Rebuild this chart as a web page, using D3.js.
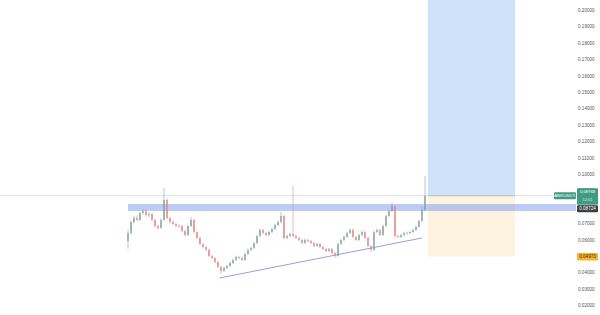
<!DOCTYPE html>
<html>
<head>
<meta charset="utf-8">
<script src="https://cdn.jsdelivr.net/npm/d3@7"></script>
<style>
  body { margin: 0; background: #fff; }
  .axis text { font-family: "Liberation Sans", Arial, sans-serif; }
</style>
</head>
<body>
<div class="chart"></div>
<script>
// candle data (open = previous close)
const firstOpen = 0.0590;
const closes = [
  0.0640, 0.0707, 0.0732, 0.0720, 0.0762, 0.0774, 0.0750, 0.0756, 0.0720, 0.0683,
  0.0671, 0.0720, 0.0842, 0.0732, 0.0707, 0.0695, 0.0683, 0.0683, 0.0652, 0.0628,
  0.0683, 0.0720, 0.0646, 0.0610, 0.0573, 0.0555, 0.0537, 0.0500, 0.0488, 0.0463,
  0.0433, 0.0409, 0.0427, 0.0439, 0.0457, 0.0476, 0.0494, 0.0488, 0.0476, 0.0512,
  0.0537, 0.0549, 0.0579, 0.0622, 0.0659, 0.0640, 0.0628, 0.0646, 0.0665, 0.0689,
  0.0707, 0.0744, 0.0610, 0.0622, 0.0634, 0.0622, 0.0610, 0.0598, 0.0579, 0.0598,
  0.0591, 0.0579, 0.0561, 0.0573, 0.0555, 0.0543, 0.0530, 0.0543, 0.0518, 0.0500,
  0.0573, 0.0598, 0.0616, 0.0640, 0.0659, 0.0616, 0.0598, 0.0628, 0.0646, 0.0610,
  0.0561, 0.0537, 0.0646, 0.0659, 0.0628, 0.0683, 0.0744, 0.0774, 0.0805, 0.0622,
  0.0616, 0.0628, 0.0640, 0.0640, 0.0646, 0.0659, 0.0677, 0.0713, 0.0780, 0.0868
];
const highs = [
  0.0660, 0.0718, 0.0745, 0.0748, 0.0770, 0.0786, 0.0780, 0.0768, 0.0762, 0.0726,
  0.0690, 0.0731, 0.0915, 0.0850, 0.0740, 0.0716, 0.0703, 0.0694, 0.0690, 0.0660,
  0.0692, 0.0738, 0.0726, 0.0652, 0.0618, 0.0580, 0.0562, 0.0545, 0.0508, 0.0494,
  0.0470, 0.0440, 0.0435, 0.0447, 0.0465, 0.0484, 0.0502, 0.0501, 0.0495, 0.0520,
  0.0545, 0.0558, 0.0588, 0.0631, 0.0668, 0.0666, 0.0648, 0.0655, 0.0673, 0.0697,
  0.0716, 0.0768, 0.0750, 0.0631, 0.0642, 0.0927, 0.0630, 0.0617, 0.0605, 0.0606,
  0.0605, 0.0598, 0.0585, 0.0580, 0.0579, 0.0561, 0.0550, 0.0550, 0.0549, 0.0524,
  0.0581, 0.0606, 0.0625, 0.0648, 0.0668, 0.0665, 0.0622, 0.0636, 0.0655, 0.0652,
  0.0616, 0.0567, 0.0655, 0.0668, 0.0665, 0.0691, 0.0752, 0.0783, 0.0823, 0.0811,
  0.0630, 0.0636, 0.0648, 0.0649, 0.0654, 0.0667, 0.0685, 0.0721, 0.0800, 0.0988
];
const lows = [
  0.0545, 0.0630, 0.0698, 0.0710, 0.0712, 0.0752, 0.0741, 0.0738, 0.0711, 0.0674,
  0.0660, 0.0665, 0.0714, 0.0722, 0.0698, 0.0688, 0.0674, 0.0672, 0.0645, 0.0620,
  0.0622, 0.0676, 0.0638, 0.0602, 0.0566, 0.0547, 0.0529, 0.0494, 0.0480, 0.0456,
  0.0426, 0.0390, 0.0402, 0.0420, 0.0432, 0.0450, 0.0470, 0.0480, 0.0469, 0.0470,
  0.0505, 0.0530, 0.0542, 0.0572, 0.0615, 0.0632, 0.0620, 0.0621, 0.0639, 0.0658,
  0.0682, 0.0700, 0.0602, 0.0603, 0.0615, 0.0614, 0.0603, 0.0590, 0.0572, 0.0573,
  0.0584, 0.0572, 0.0554, 0.0555, 0.0548, 0.0536, 0.0524, 0.0525, 0.0511, 0.0488,
  0.0495, 0.0567, 0.0591, 0.0610, 0.0633, 0.0609, 0.0591, 0.0592, 0.0621, 0.0603,
  0.0554, 0.0524, 0.0531, 0.0640, 0.0621, 0.0622, 0.0677, 0.0737, 0.0768, 0.0614,
  0.0608, 0.0610, 0.0621, 0.0632, 0.0634, 0.0640, 0.0652, 0.0670, 0.0706, 0.0772
];

// drawings (index units on x, price on y)
const bandZone = [0.0774, 0.0817];
const trendLine = [{i: 30.5, p: 0.0366}, {i: 98, p: 0.0610}];
const position = {start: 100, end: 129, entry: 0.0868, stop: 0.04973, target: 0.2150};
const priceTicks = d3.range(2, 21).map(d => d / 100);
const symbolName = "BANKUSDT.P";
const lastLabel = "0.08768";
const countdown = "12:01";
const darkLabel = "0.08724";
const stopLabel = "0.04973";

const width = 600, height = 315;
const plotRight = 576;

const candles = closes.map((c, i) => ({
  i: i,
  o: i === 0 ? firstOpen : closes[i - 1],
  c: c,
  h: highs[i],
  l: lows[i]
}));

const svg = d3.select('.chart').append('svg')
  .attr("width", width)
  .attr("height", height);

const xScale = d3.scaleLinear()
  .domain([0, closes.length - 1])
  .range([128, 425]);

const yScale = d3.scaleLinear()
  .domain([0.20, 0.02])
  .range([10, 305.2]);

// long position tool
svg.append("rect")
  .attr("x", xScale(position.start))
  .attr("width", xScale(position.end) - xScale(position.start))
  .attr("y", yScale(position.target))
  .attr("height", yScale(position.entry) - yScale(position.target))
  .attr("fill", "#cfe2f8");

svg.append("rect")
  .attr("x", xScale(position.start))
  .attr("width", xScale(position.end) - xScale(position.start))
  .attr("y", yScale(position.entry))
  .attr("height", yScale(position.stop) - yScale(position.entry))
  .attr("fill", "#fdf3df");

svg.append("line")
  .attr("x1", xScale(position.start))
  .attr("x2", xScale(position.end))
  .attr("y1", yScale(position.entry))
  .attr("y2", yScale(position.entry))
  .attr("stroke", "#9a9a9a")
  .attr("stroke-width", 0.8);

// last price line
svg.append("line")
  .attr("x1", 0)
  .attr("x2", plotRight)
  .attr("y1", yScale(position.entry))
  .attr("y2", yScale(position.entry))
  .attr("stroke", "#c9d3e2")
  .attr("stroke-width", 0.7);

// horizontal zone
svg.append("rect")
  .attr("x", xScale(0))
  .attr("width", plotRight - xScale(0))
  .attr("y", yScale(bandZone[1]))
  .attr("height", yScale(bandZone[0]) - yScale(bandZone[1]))
  .attr("fill", "#7d98ee")
  .style("opacity", 0.5);

// trend line
svg.append("line")
  .attr("x1", xScale(trendLine[0].i))
  .attr("y1", yScale(trendLine[0].p))
  .attr("x2", xScale(trendLine[1].i))
  .attr("y2", yScale(trendLine[1].p))
  .attr("stroke", "#7f86d6")
  .attr("stroke-width", 0.8);

// candles
const upColor = "#84a69d", downColor = "#e08a85";
const g = svg.append("g");

g.selectAll(".wick")
  .data(candles)
  .enter()
  .append("line")
  .attr("x1", d => xScale(d.i))
  .attr("x2", d => xScale(d.i))
  .attr("y1", d => yScale(d.h))
  .attr("y2", d => yScale(d.l))
  .attr("stroke", d => d.c >= d.o ? upColor : downColor)
  .attr("stroke-width", 0.6);

g.selectAll(".body")
  .data(candles)
  .enter()
  .append("rect")
  .attr("x", d => xScale(d.i) - 0.7)
  .attr("width", 1.4)
  .attr("y", d => yScale(Math.max(d.o, d.c)))
  .attr("height", d => Math.max(0.6, Math.abs(yScale(d.o) - yScale(d.c))))
  .attr("fill", d => d.c >= d.o ? upColor : downColor);

// price axis
const yAxis = d3.axisRight()
  .scale(yScale)
  .tickValues(priceTicks)
  .tickSize(0)
  .tickPadding(2)
  .tickFormat(d3.format(".5f"));

svg.append("g")
  .attr("class", "axis y-axis")
  .attr("transform", `translate(${plotRight},0)`)
  .call(yAxis)
  .call(a => a.select(".domain").remove())
  .selectAll("text")
  .style("font-size", "4.6px")
  .attr("fill", "#555");

// axis labels
const yLast = yScale(position.entry);
const labelFont = "Liberation Sans, Arial, sans-serif";

svg.append("rect")
  .attr("x", 554).attr("y", yLast - 3.5)
  .attr("width", 22).attr("height", 7)
  .attr("rx", 1)
  .attr("fill", "#3f9c83");
svg.append("text")
  .attr("x", 565).attr("y", yLast + 1.6)
  .attr("text-anchor", "middle")
  .style("font-size", "4.4px")
  .style("font-family", labelFont)
  .attr("fill", "#fff")
  .text(symbolName);

svg.append("rect")
  .attr("x", 577).attr("y", yLast - 7.5)
  .attr("width", 21).attr("height", 16.5)
  .attr("rx", 1)
  .attr("fill", "#3f9c83");
svg.append("text")
  .attr("x", 587.5).attr("y", yLast - 2.6)
  .attr("text-anchor", "middle")
  .style("font-size", "4.2px")
  .style("font-family", labelFont)
  .attr("fill", "#fff")
  .text(lastLabel);
svg.append("text")
  .attr("x", 587.5).attr("y", yLast + 5.6)
  .attr("text-anchor", "middle")
  .style("font-size", "4px")
  .style("font-family", labelFont)
  .attr("fill", "#d8efe8")
  .text(countdown);

svg.append("rect")
  .attr("x", 577).attr("y", yLast + 9.5)
  .attr("width", 21).attr("height", 7)
  .attr("rx", 1)
  .attr("fill", "#3a3f44");
svg.append("text")
  .attr("x", 587.5).attr("y", yLast + 14.6)
  .attr("text-anchor", "middle")
  .style("font-size", "4.6px")
  .style("font-family", labelFont)
  .attr("fill", "#fff")
  .text(darkLabel);

const yStop = yScale(position.stop);
svg.append("rect")
  .attr("x", 577).attr("y", yStop - 3.5)
  .attr("width", 21).attr("height", 7.5)
  .attr("rx", 1)
  .attr("fill", "#f5b52e");
svg.append("text")
  .attr("x", 587.5).attr("y", yStop + 1.7)
  .attr("text-anchor", "middle")
  .style("font-size", "4.6px")
  .style("font-family", labelFont)
  .attr("fill", "#3b2a05")
  .text(stopLabel);
</script>
</body>
</html>
